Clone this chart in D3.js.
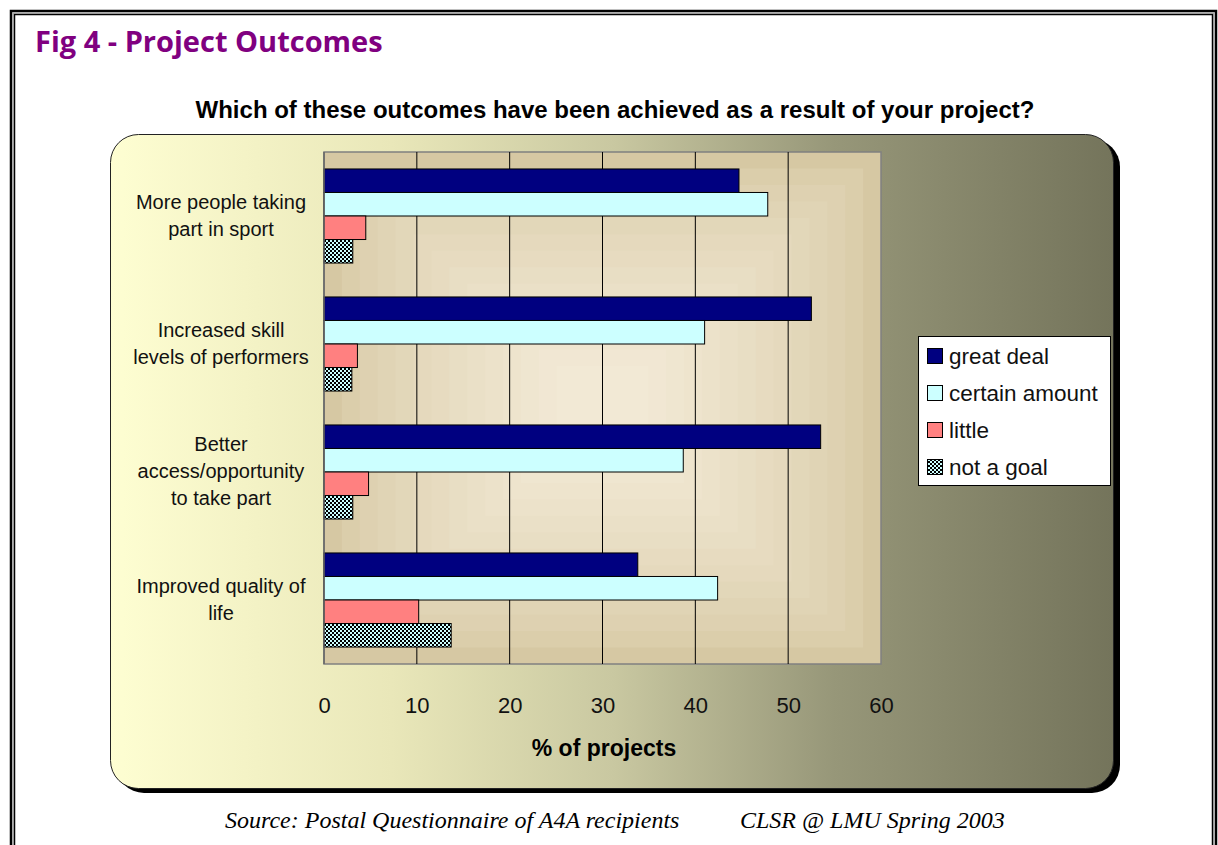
<!DOCTYPE html>
<html>
<head>
<meta charset="utf-8">
<script src="https://cdn.jsdelivr.net/npm/d3@7"></script>
<style>
  body { margin: 0; background: #fff; }
  svg { display: block; }
</style>
</head>
<body>
<svg id="chart" width="1218" height="845"></svg>
<script>
const categories = [
    ["More people taking", "part in sport"],
    ["Increased skill", "levels of performers"],
    ["Better", "access/opportunity", "to take part"],
    ["Improved quality of", "life"]
];
const seriesNames = ["great deal", "certain amount", "little", "not a goal"];
const greatDeal = [44.7, 52.5, 53.5, 33.8];
const certainAmount = [47.8, 41.0, 38.7, 42.4];
const little = [4.5, 3.6, 4.8, 10.2];
const notAGoal = [3.1, 3.0, 3.1, 13.7];
const xTicks = [0, 10, 20, 30, 40, 50, 60];

const seriesValues = [greatDeal, certainAmount, little, notAGoal];
const fills = ["#000080", "#ccffff", "#ff8080", "url(#check)"];
const sans = "'Liberation Sans', Arial, sans-serif";

const svg = d3.select("#chart");
const defs = svg.append("defs");

// checkerboard for "not a goal"
const pat = defs.append("pattern")
    .attr("id", "check")
    .attr("width", 4).attr("height", 4)
    .attr("patternUnits", "userSpaceOnUse");
pat.append("rect").attr("width", 4).attr("height", 4).attr("fill", "#ccffff");
pat.append("rect").attr("width", 2).attr("height", 2).attr("fill", "#000");
pat.append("rect").attr("x", 2).attr("y", 2).attr("width", 2).attr("height", 2).attr("fill", "#000");

const bg = defs.append("linearGradient").attr("id", "bg")
    .attr("x1", "0%").attr("x2", "100%").attr("y1", "0%").attr("y2", "0%");
[[0, "#fefed2"], [0.28, "#e9e7b9"], [0.5, "#c9c8a1"], [0.72, "#979779"], [1, "#74745b"]]
    .forEach(s => bg.append("stop").attr("offset", s[0]).attr("stop-color", s[1]));

// page frame
svg.append("rect").attr("x", 11).attr("y", 11).attr("width", 1205).attr("height", 860)
    .attr("fill", "none").attr("stroke", "#000").attr("stroke-width", 2.5);
svg.append("rect").attr("x", 13).attr("y", 13).attr("width", 1201).attr("height", 860)
    .attr("fill", "none").attr("stroke", "#999").attr("stroke-width", 1);
svg.append("rect").attr("x", 14.5).attr("y", 14.5).attr("width", 1198).attr("height", 860)
    .attr("fill", "none").attr("stroke", "#000").attr("stroke-width", 1.5);

svg.append("text")
    .attr("x", 35).attr("y", 52)
    .attr("font-family", "'Open Sans', sans-serif")
    .attr("font-weight", "bold")
    .attr("font-size", 29)
    .attr("fill", "#800080")
    .text("Fig 4 - Project Outcomes");

svg.append("text")
    .attr("x", 615).attr("y", 118)
    .attr("text-anchor", "middle")
    .attr("font-family", sans)
    .attr("font-weight", "bold")
    .attr("font-size", 24)
    .text("Which of these outcomes have been achieved as a result of your project?");

// chart area with shadow
svg.append("rect").attr("x", 116).attr("y", 139).attr("width", 1004).attr("height", 654)
    .attr("rx", 28).attr("fill", "#000");
svg.append("rect").attr("x", 110.5).attr("y", 134.5).attr("width", 1003).attr("height", 654)
    .attr("rx", 28).attr("fill", "url(#bg)").attr("stroke", "#222").attr("stroke-width", 1);

const plot = { left: 324, right: 881, top: 152, bottom: 664 };

const x = d3.scaleLinear().domain([0, 60]).range([plot.left, plot.right]);
const y = d3.scaleBand().domain(d3.range(categories.length))
    .range([plot.top, plot.bottom]).paddingInner(0.265).paddingOuter(0.1325);
const ySub = d3.scaleBand().domain(d3.range(seriesNames.length)).range([0, y.bandwidth()]);

// plot background: stepped rectangular gradient
const steps = 14;
const pw = plot.right - plot.left, ph = plot.bottom - plot.top;
const shade = d3.interpolateRgb("#d6c8a3", "#f4ebd8");
for (let i = 0; i < steps; i++) {
    const t = i / steps;
    svg.append("rect")
        .attr("x", plot.left + t * pw * 0.45)
        .attr("y", plot.top + t * ph * 0.45)
        .attr("width", pw * (1 - t * 0.9))
        .attr("height", ph * (1 - t * 0.9))
        .attr("fill", shade(Math.pow(t, 0.7)));
}
svg.append("rect")
    .attr("x", plot.left).attr("y", plot.top).attr("width", pw).attr("height", ph)
    .attr("fill", "none").attr("stroke", "#808080").attr("stroke-width", 1.5);

// gridlines
svg.append("g").selectAll("line")
    .data(xTicks.filter(d => d > 0 && d < 60))
    .join("line")
    .attr("x1", d => x(d)).attr("x2", d => x(d))
    .attr("y1", plot.top).attr("y2", plot.bottom)
    .attr("stroke", "#000").attr("stroke-width", 1);

// bars
const bars = [];
categories.forEach((c, ci) => seriesValues.forEach((vals, si) => bars.push({ ci, si, v: vals[ci] })));
svg.append("g").selectAll("rect")
    .data(bars)
    .join("rect")
    .attr("x", x(0))
    .attr("y", d => y(d.ci) + ySub(d.si))
    .attr("width", d => x(d.v) - x(0))
    .attr("height", ySub.bandwidth())
    .attr("fill", d => fills[d.si])
    .attr("stroke", "#000")
    .attr("stroke-width", 1);

// left axis line
svg.append("line")
    .attr("x1", plot.left).attr("x2", plot.left)
    .attr("y1", plot.top).attr("y2", plot.bottom)
    .attr("stroke", "#666").attr("stroke-width", 1.5);

// category labels
const catG = svg.append("g")
    .attr("font-family", sans)
    .attr("font-size", 20).attr("fill", "#111");
categories.forEach((lines, ci) => {
    const cy = y(ci) + y.bandwidth() / 2;
    const lh = 27;
    const t = catG.append("text").attr("text-anchor", "middle");
    lines.forEach((ln, li) => {
        t.append("tspan")
            .attr("x", 221)
            .attr("y", cy + (li - (lines.length - 1) / 2) * lh + 6)
            .text(ln);
    });
});

// x axis
const xAxis = svg.append("g")
    .attr("transform", `translate(0,${plot.bottom})`)
    .call(d3.axisBottom(x).tickValues(xTicks).tickSize(0).tickPadding(33));
xAxis.select(".domain").remove();
xAxis.selectAll("text")
    .attr("font-family", sans)
    .attr("font-size", 22).attr("fill", "#111");

svg.append("text")
    .attr("x", 604).attr("y", 756)
    .attr("text-anchor", "middle")
    .attr("font-family", sans)
    .attr("font-weight", "bold").attr("font-size", 23)
    .text("% of projects");

// legend
const leg = svg.append("g").attr("transform", "translate(918,336)");
leg.append("rect").attr("x", 0.5).attr("y", 0.5).attr("width", 192).attr("height", 149)
    .attr("fill", "#fff").attr("stroke", "#000").attr("stroke-width", 1);
const items = leg.selectAll("g.item").data(seriesNames).join("g")
    .attr("class", "item")
    .attr("transform", (d, i) => `translate(0,${20 + i * 37})`);
items.append("rect")
    .attr("x", 9.5).attr("y", -7.5).attr("width", 15).attr("height", 15)
    .attr("fill", (d, i) => fills[i]).attr("stroke", "#000").attr("stroke-width", 1);
items.append("text")
    .attr("x", 31).attr("y", 8)
    .attr("font-family", sans)
    .attr("font-size", 22.5).attr("fill", "#111")
    .text(d => d);

// source line
const src = svg.append("g")
    .attr("font-family", "'Liberation Serif', 'Times New Roman', serif")
    .attr("font-style", "italic").attr("font-size", 24);
src.append("text").attr("x", 225).attr("y", 828).text("Source: Postal Questionnaire of A4A recipients");
src.append("text").attr("x", 740).attr("y", 828).text("CLSR @ LMU Spring 2003");
</script>
</body>
</html>
